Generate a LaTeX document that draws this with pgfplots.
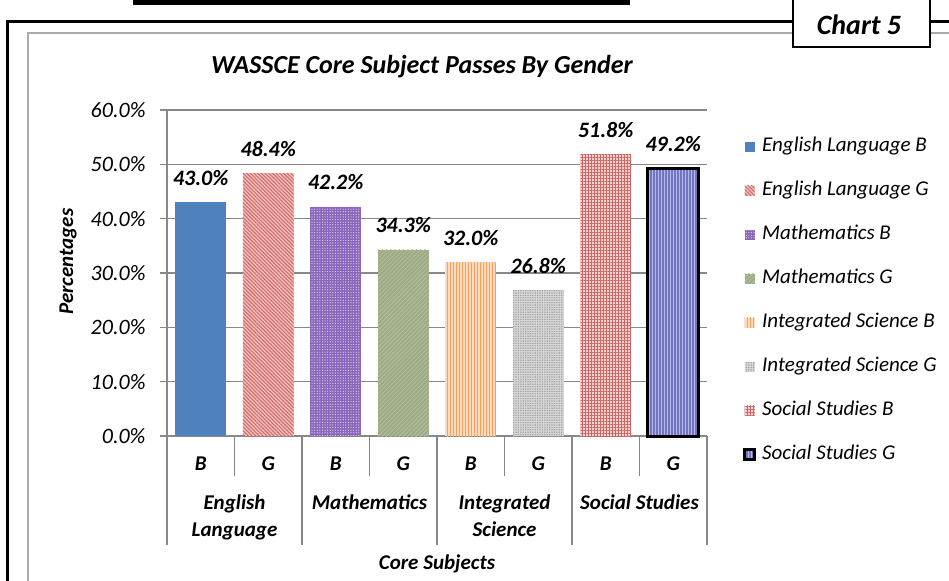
\documentclass[border=0pt]{standalone}
\usepackage{fontspec}
\setmainfont{Carlito}
\usepackage{pgfplots}
\pgfplotsset{compat=1.18}
\usetikzlibrary{patterns.meta}
\definecolor{gridc}{HTML}{888888}
\definecolor{cA}{HTML}{4F81BD}
\definecolor{cB}{HTML}{D46A67}
\definecolor{cBbg}{HTML}{EFC3C2}
\definecolor{cC}{HTML}{8A66BC}
\definecolor{cD}{HTML}{9CAB84}
\definecolor{cDl}{HTML}{B5C0A0}
\definecolor{cE}{HTML}{F8A05A}
\definecolor{cEbg}{HTML}{FCDCC0}
\definecolor{cF}{HTML}{A0A0A0}
\definecolor{cFbg}{HTML}{D8D8D8}
\definecolor{cG}{HTML}{CA6664}
\definecolor{cGbg}{HTML}{F3D3D2}
\definecolor{cH}{HTML}{7275C2}
\definecolor{cHbg}{HTML}{B6B8E8}
\newcommand\fA{\fontsize{21bp}{27bp}\selectfont}
\newcommand\fB{\fontsize{22bp}{27bp}\selectfont}
\begin{document}
\begin{tikzpicture}
\useasboundingbox (-167bp,-145bp) rectangle (782bp,436bp);
% frames
\draw[draw=gray!65, line width=1.5bp] (-139bp,-160bp) -- (-139bp,403bp) -- (800bp,403bp);
\draw[line width=3bp] (-159bp,-160bp) -- (-159bp,414bp) -- (800bp,414bp);
\fill (-34bp,431bp) rectangle (463bp,445bp);
\draw[line width=2bp, fill=white] (626bp,389bp) rectangle (763bp,445bp);
\node[font=\fontsize{28bp}{31bp}\selectfont\bfseries\itshape] at (692bp,411bp) {Chart 5};
\begin{axis}[
  at={(0,0)}, anchor=south west,
  scale only axis, width=540bp, height=326bp,
  xmin=-0.5, xmax=7.5, ymin=0, ymax=60,
  axis x line*=bottom, axis y line*=left,
  axis line style={draw=gridc, line width=1.5bp},
  ymajorgrids, grid style={draw=gridc, line width=1.5bp},
  tick align=outside, major tick length=7bp,
  ytick style={draw=gridc, line width=1.5bp},
  xtick style={draw=none},
  ytick={0,10,...,60},
  /pgf/number format/assume math mode=true,
  yticklabel={\pgfmathprintnumber[fixed,fixed zerofill,precision=1]{\tick}\%},
  yticklabel style={font=\fB\itshape, xshift=-11bp},
  xtick={0,...,7},
  xticklabels={B,G,B,G,B,G,B,G},
  xticklabel style={font=\fA\bfseries\itshape, anchor=base, yshift=-27bp},
  nodes near coords={\pgfmathprintnumber[fixed,fixed zerofill,precision=1]{\pgfplotspointmeta}\%},
  nodes near coords style={font=\fB\bfseries\itshape, anchor=base, yshift=17bp},
  title={WASSCE Core Subject Passes By Gender},
  title style={font=\fontsize{26bp}{30bp}\selectfont\bfseries\itshape, at={(axis description cs:0.4722,1.1135)}, anchor=center},
  xlabel={Core Subjects},
  every axis x label/.style={font=\fA\bfseries\itshape, at={(axis description cs:0.5,-0.392)}, anchor=center},
  ylabel={Percentages},
  every axis y label/.style={font=\fA\bfseries\itshape, at={(axis description cs:-0.1833,0.535)}, rotate=90, anchor=center},
  legend style={at={(1.0665,0.9235)}, anchor=north west, draw=none, fill=none, inner sep=0pt,
    row sep=21bp, column sep=4bp, font=\fA\itshape,
    nodes={inner sep=2bp, text height=14bp, text depth=5bp, anchor=west}},
  legend cell align=left,
  legend image code/.code={\path[#1] (0bp,-5bp) rectangle (10bp,5bp);},
  b/.style={ybar, bar width=0.755, bar shift=0pt},
  clip=false,
]
\addplot[b, fill=cA, draw=none] coordinates {(0,43.0)};
\addlegendentry{English Language B}
\addplot[b, fill=cBbg, draw=none, postaction={pattern={Lines[angle=-45,distance=2.6bp,line width=1.1bp]}, pattern color=cB}] coordinates {(1,48.4)};
\addlegendentry{English Language G}
\addplot[b, fill=cC, draw=none, postaction={pattern={Dots[distance=2.6bp,radius=0.6bp]}, pattern color=white!75!cC}] coordinates {(2,42.2)};
\addlegendentry{Mathematics B}
\addplot[b, fill=cD, draw=none, postaction={pattern={Lines[angle=45,distance=3bp,line width=0.8bp]}, pattern color=cDl}] coordinates {(3,34.3)};
\addlegendentry{Mathematics G}
\addplot[b, fill=cEbg, draw=none, postaction={pattern={Lines[angle=90,distance=3bp,line width=0.9bp]}, pattern color=cE}] coordinates {(4,32.0)};
\addlegendentry{Integrated Science B}
\addplot[b, fill=cFbg, draw=none, postaction={pattern={Dots[distance=2.4bp,radius=0.8bp]}, pattern color=cF}] coordinates {(5,26.8)};
\addlegendentry{Integrated Science G}
\addplot[b, fill=cGbg, draw=none, postaction={pattern={Hatch[angle=0,distance=3bp,line width=1.0bp]}, pattern color=cG}] coordinates {(6,51.8)};
\addlegendentry{Social Studies B}
\addplot[b, fill=cHbg, draw=black, line width=3bp, postaction={pattern={Lines[angle=90,distance=3bp,line width=1.1bp]}, pattern color=cH}] coordinates {(7,49.2)};
\addlegendentry{Social Studies G}
\end{axis}
% category separators
\foreach \k in {0,2,4,6,8} \draw[gridc, line width=1.5bp] (\k*67.5bp,0) -- (\k*67.5bp,-109bp);
\foreach \k in {1,3,5,7} \draw[gridc, line width=1.5bp] (\k*67.5bp,0) -- (\k*67.5bp,-40bp);
% group labels
\foreach \x/\t in {67.5/{English\\Language}, 202.5/{Mathematics}, 337.5/{Integrated\\Science}, 472.5/{Social Studies}}
  \node[font=\fA\bfseries\itshape, align=center, anchor=north, inner sep=0pt] at (\x bp,-59bp) {\t};
\end{tikzpicture}
\end{document}
